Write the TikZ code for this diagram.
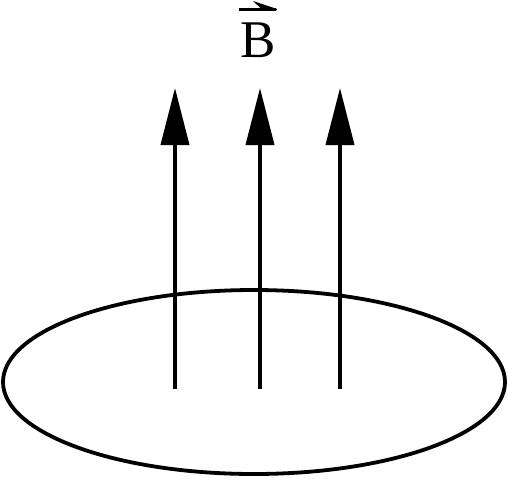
\documentclass[tikz,border=0pt]{standalone}
\usepackage{fontspec}
\setmainfont{Liberation Serif}
\usetikzlibrary{arrows.meta,shapes.geometric}
\begin{document}
\begin{tikzpicture}[x=1pt,y=-1pt,
  fieldarrow/.style={line width=3.8pt,-{Triangle[length=57pt,width=28pt]}},
  loopshape/.style={draw,ellipse,line width=3.8pt,inner sep=0pt,minimum width=502pt,minimum height=184pt}]
\useasboundingbox (0,0) rectangle (508,479);
\node[loopshape] (loop) at (254,382) {};
\coordinate (s1) at (175,389); \coordinate (t1) at (175,88);
\coordinate (s2) at (260,389); \coordinate (t2) at (260,88);
\coordinate (s3) at (340,389); \coordinate (t3) at (340,88);
\draw[fieldarrow] (s1) -- (t1);
\draw[fieldarrow] (s2) -- (t2);
\draw[fieldarrow] (s3) -- (t3);
\node[inner sep=0pt,font=\fontsize{53}{53}\selectfont] (B) at (258,40) {B};
\draw[line width=3pt] (239,9.5) -- (276,9.5);
\fill (253,1) -- (277,9) -- (276,11) -- (262,9.5) -- cycle;
\end{tikzpicture}
\end{document}
